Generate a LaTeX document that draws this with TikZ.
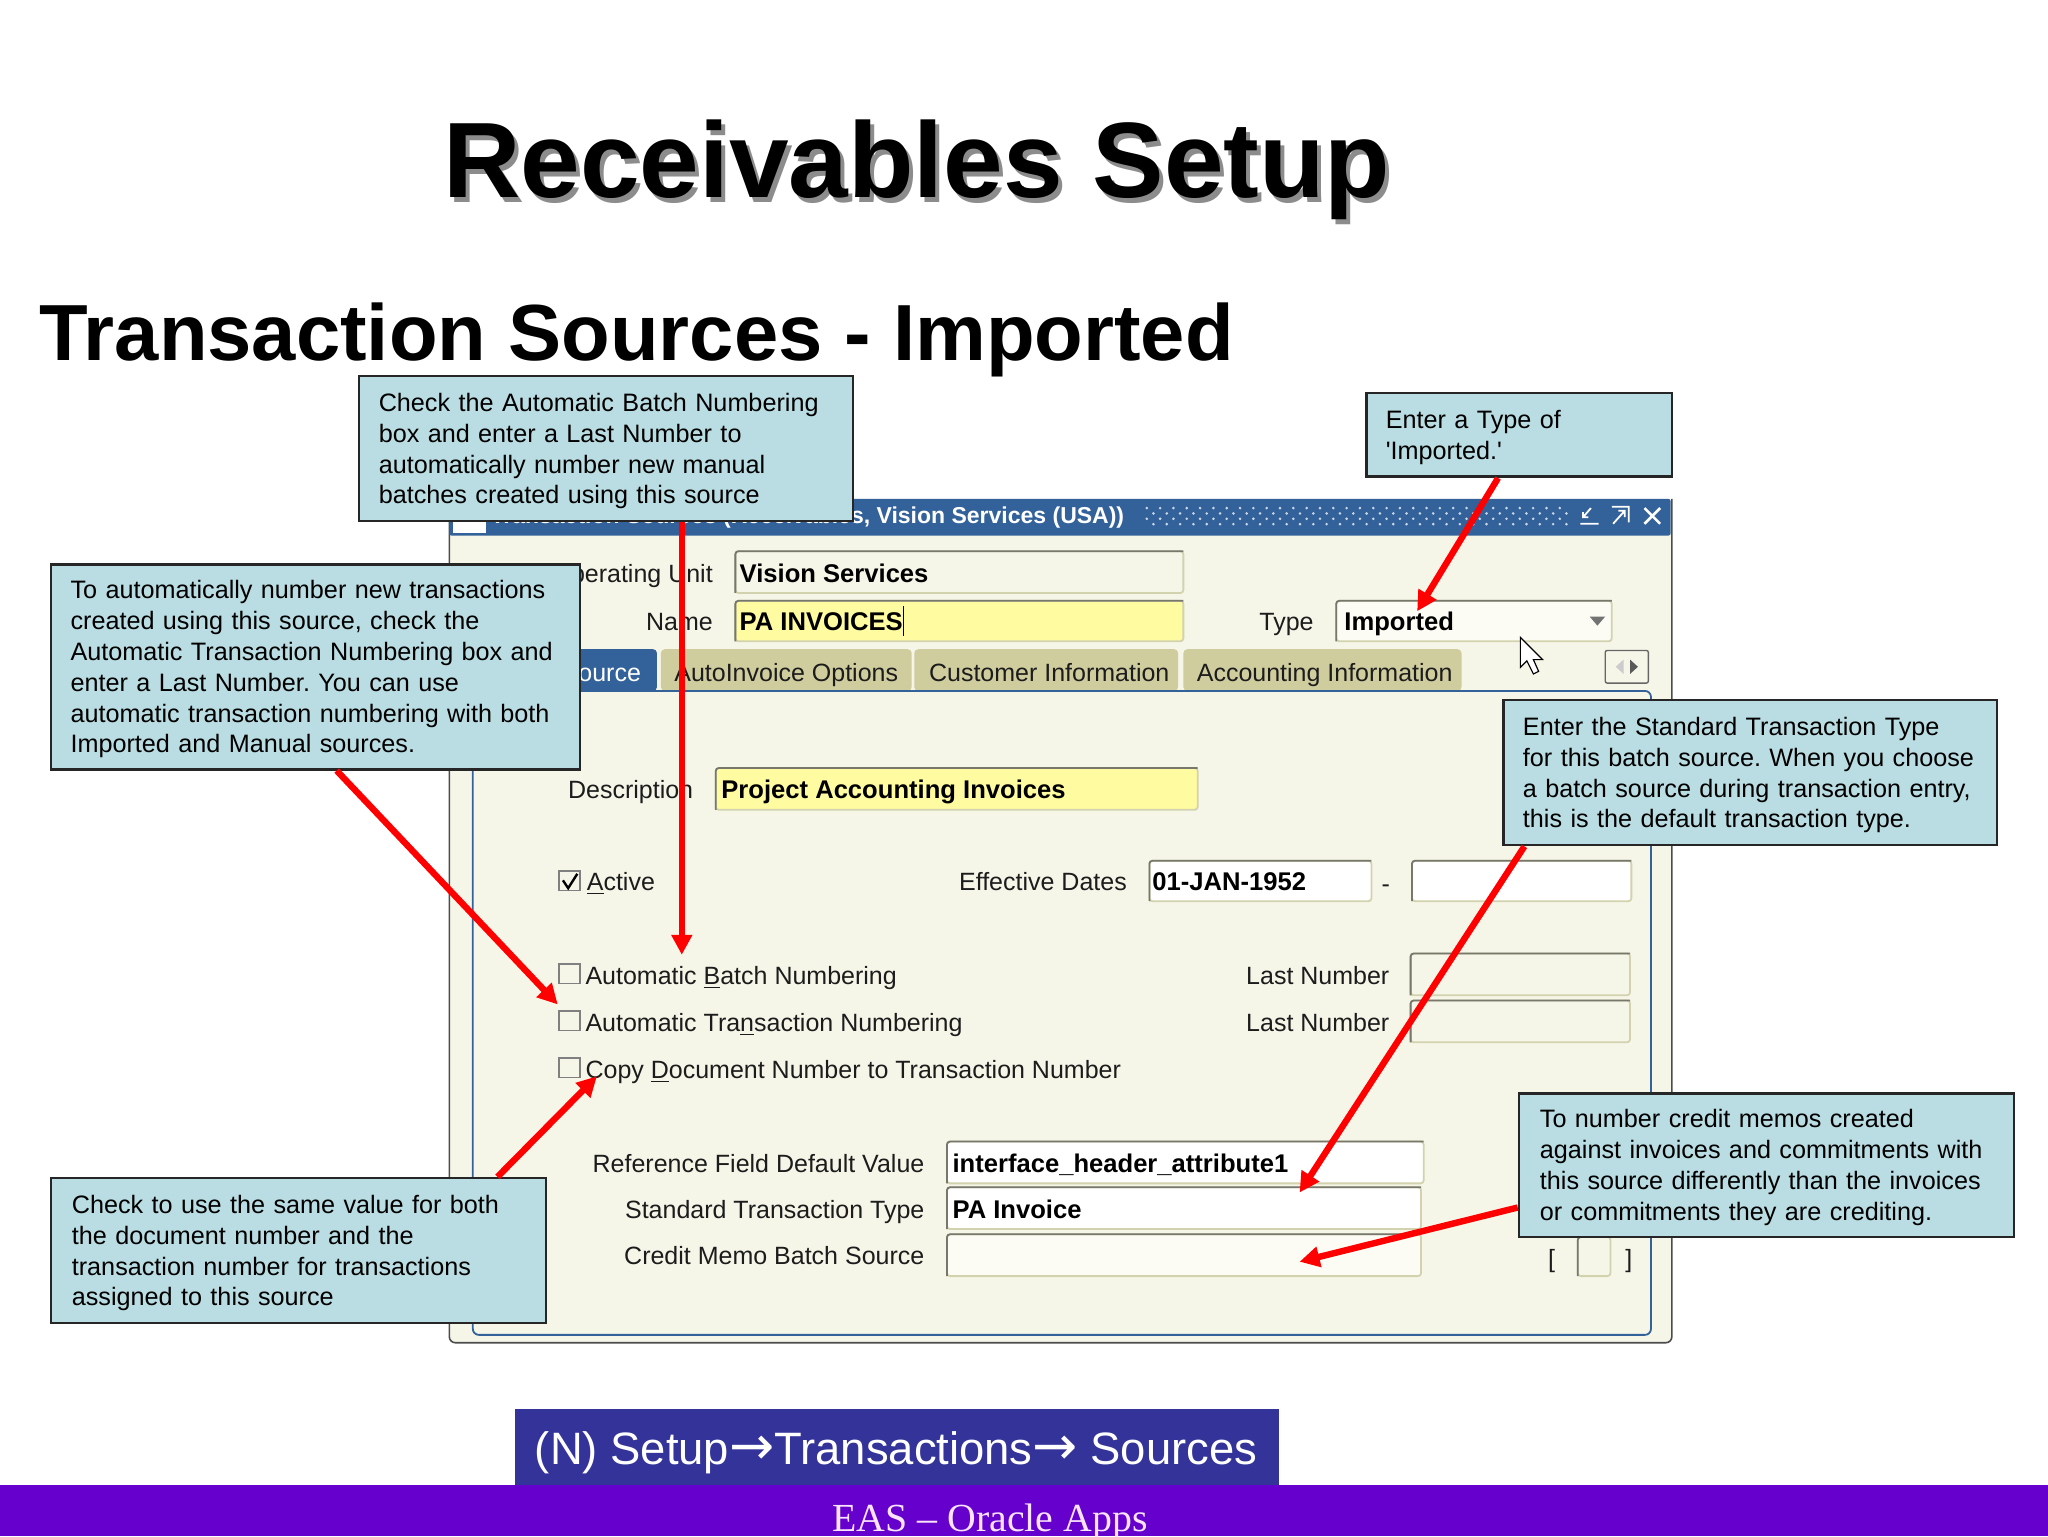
\documentclass[tikz,border=0pt]{standalone}
\usepackage{fontspec}
\setmainfont{Liberation Sans}
\newfontfamily\footfont{Liberation Serif}
\newfontfamily\arrowfont{DejaVu Sans}
\usetikzlibrary{calc,arrows.meta}
\def\px{0.65306pt}
\definecolor{notefill}{HTML}{B9DDE2}
\definecolor{winfill}{HTML}{F6F6E8}
\definecolor{winblue}{HTML}{33629A}
\definecolor{tabfill}{HTML}{CFCD9E}
\definecolor{fieldyellow}{HTML}{FFFBA0}
\definecolor{fieldpale}{HTML}{FCFCF4}
\definecolor{fieldedge}{HTML}{D2D2AE}
\definecolor{fieldtop}{HTML}{77776C}
\definecolor{uitext}{HTML}{1C1C1C}
\definecolor{navfill}{HTML}{333399}
\definecolor{footfill}{HTML}{6600CC}
\definecolor{footink}{HTML}{FBE3FB}
\tikzset{
  notebox/.style={draw=black!85,line width=1.3pt,fill=notefill,inner sep=0pt,align=left,font=\fontsize{12.6}{15.4}\selectfont\frenchspacing,execute at begin node={\rule{0pt}{11.7pt}}},
  redarrow/.style={draw=red,line width=3.2pt,-{Triangle[length=10pt,width=10pt]}},
  fieldbox/.style={draw=fieldedge,line width=0.9pt,rounded corners=1.5pt},
  uilabel/.style={inner sep=0pt,text=uitext,text height=10.2pt,text depth=1pt,font=\fontsize{12.5}{15}\selectfont},
  uivalue/.style={inner sep=0pt,anchor=west,text=black,text height=10.2pt,text depth=1pt,font=\fontsize{12.8}{15}\bfseries\selectfont},
  tabbox/.style={fill=tabfill,rounded corners=2pt},
  checkbox/.style={draw=black!50,line width=0.7pt,fill=winfill}
}
\begin{document}
\begin{tikzpicture}[x=\px,y=-\px]
\useasboundingbox (0,0) rectangle (1568,1176);

\node[font=\fontsize{53.6}{60}\bfseries\selectfont,text=black!45] (titleshadow) at (705,134) {Receivables Setup};
\node[font=\fontsize{53.6}{60}\bfseries\selectfont] (title) at (702,130) {Receivables Setup};
\node[anchor=west,inner sep=0pt,font=\fontsize{39.8}{44}\bfseries\selectfont] (subtitle) at (30,260) {Transaction Sources - Imported};

\fill[winfill,rounded corners=3pt] (344,382) rectangle (1280,1028);
\draw[black!70,line width=0.8pt,rounded corners=3pt] (344,384) -- (344,1028) -- (1280,1028) -- (1280,382);
\fill[winblue,rounded corners=1pt] (344,382) rectangle (1279,410);
\fill[white] (347,400) rectangle (372,408);
\node[anchor=east,inner sep=0pt,text=white,font=\fontsize{11.5}{15}\bfseries\selectfont] (wintitle) at (861,396) {Transaction Sources (Receivables, Vision Services (USA))};
\foreach \col in {0,...,31}
  \foreach \row in {0,1,2,3}
    \fill[white!75!winblue] ({878+\col*10.2+mod(\row,2)*5.1},{389+\row*4.1}) circle (1.1);
\draw[white,line width=0.9pt] (1218,389) -- (1212,396) (1212,392) -- (1212,396) -- (1216,396) (1210,401) -- (1224,401);
\draw[white,line width=0.9pt] (1234,388) -- (1247,388) -- (1247,400) (1235,401) -- (1244,391) (1239,391) -- (1244,391) -- (1244,396);
\draw[white,line width=1.3pt] (1259,389) -- (1271,401) (1271,389) -- (1259,401);

\fill[winblue,rounded corners=2pt] (363,529) -- (363,497) -- (503,497) -- (503,529) -- cycle;
\foreach \xa/\xb in {506/698,700/902,906/1119}
  \fill[tabbox] (\xa,529) -- (\xa,497) -- (\xb,497) -- (\xb,529) -- cycle;
\node[uilabel,anchor=east,text=white] (tabsource) at (491,515) {Source};
\node[uilabel,anchor=west] (tabinvoice) at (516,515) {AutoInvoice Options};
\node[uilabel,anchor=west] (tabcustomer) at (711,515) {Customer Information};
\node[uilabel,anchor=west] (tabaccount) at (916,515) {Accounting Information};
\draw[winblue,line width=0.9pt,rounded corners=3pt] (362,529) -- (362,1022) -- (1264,1022) -- (1264,529) -- cycle;
\draw[black!60,fill=winfill,line width=0.7pt,rounded corners=1pt] (1229,498) rectangle (1262,523);
\fill[black!20] (1243,505) -- (1243,516) -- (1237,510.5) -- cycle;
\fill[black!65] (1248,505) -- (1248,516) -- (1254,510.5) -- cycle;

\foreach \xa/\ya/\xb/\yb/\tint in {563/422/906/454/winfill,563/460/906/491/fieldyellow,1023/460/1234/491/fieldpale,
  548/588/917/620/fieldyellow,880/659/1050/690/white,1081/659/1249/690/white,
  1080/730/1248/762/winfill,1080/766/1248/798/winfill,
  725/874/1090/906/white,725/909/1088/941/white,725/945/1088/977/fieldpale,1208/947/1233/977/winfill}{
  \draw[fieldbox,fill=\tint] (\xa,\ya) rectangle (\xb,\yb);
  \draw[fieldtop,line width=0.9pt,rounded corners=1.5pt] (\xa,\yb) -- (\xa,\ya) -- (\xb,\ya);
}
\fill[black!55] (1217,472) -- (1229,472) -- (1223,479) -- cycle;
\draw[black] (692,464) -- (692,487);

\node[uilabel,anchor=east] (opunit) at (546,439) {Operating Unit};
\node[uilabel,anchor=east] (namelabel) at (546,476) {Name};
\node[uilabel,anchor=east] (typelabel) at (1006,476) {Type};
\node[uilabel,anchor=east] (desclabel) at (531,604) {Description};
\node[uilabel,anchor=west] (activelabel) at (449,675) {\underline{A}ctive};
\node[uilabel,anchor=east] (datelabel) at (863,675) {Effective Dates};
\node[uilabel] (datedash) at (1061,676) {-};
\node[uilabel,anchor=west] (batchlabel) at (448,747) {Automatic \underline{B}atch Numbering};
\node[uilabel,anchor=west] (translabel) at (448,783) {Automatic Tra\underline{n}saction Numbering};
\node[uilabel,anchor=west] (copylabel) at (448,819) {Copy \underline{D}ocument Number to Transaction Number};
\node[uilabel,anchor=east] (lastbatch) at (1064,747) {Last Number};
\node[uilabel,anchor=east] (lasttrans) at (1064,783) {Last Number};
\node[uilabel,anchor=east] (reflabel) at (708,891) {Reference Field Default Value};
\node[uilabel,anchor=east] (stdlabel) at (708,926) {Standard Transaction Type};
\node[uilabel,anchor=east] (creditlabel) at (708,961) {Credit Memo Batch Source};
\node[uilabel] (openbrack) at (1188,963) {[};
\node[uilabel] (closebrack) at (1247,963) {]};

\node[uivalue] (unitvalue) at (566,439) {Vision Services};
\node[uivalue] (namevalue) at (566,476) {PA INVOICES};
\node[uivalue] (typevalue) at (1029,476) {Imported};
\node[uivalue] (descvalue) at (552,604) {Project Accounting Invoices};
\node[uivalue] (datevalue) at (882,675) {01-JAN-1952};
\node[uivalue] (refvalue) at (729,891) {interface\_header\_attribute1};
\node[uivalue] (stdvalue) at (729,926) {PA Invoice};

\foreach \ya in {667,738,774,810}
  \draw[checkbox] (428,\ya) rectangle (444,\ya+15);
\draw[black,line width=1.2pt] (431,674) -- (435,680) -- (442,669);
\draw[fill=white,draw=black,line width=0.6pt] (1164,488) -- (1164,511) -- (1169,506) -- (1174,516) -- (1178,514) -- (1174,505) -- (1181,505) -- cycle;

\coordinate (batchtip) at (522,731);
\coordinate (typetip) at (1085,468);
\coordinate (transtip) at (427,769);
\coordinate (copytip) at (457,824);
\coordinate (stdtip) at (995,913);
\coordinate (credittip) at (995,966);

\node[notebox,minimum width=378*\px,minimum height=111*\px,text width=348*\px] (batchnote) at (464,343.5) {Check the Automatic Batch Numbering\\box and enter a Last Number to\\automatically number new manual\\batches created using this source};
\node[notebox,minimum width=234*\px,minimum height=64*\px,text width=204*\px] (typenote) at (1163,333) {Enter a Type of\\\textquotesingle Imported.\textquotesingle};
\node[notebox,minimum width=405*\px,minimum height=157*\px,text width=375*\px] (transnote) at (241.5,510.5) {To automatically number new transactions\\created using this source, check the\\Automatic Transaction Numbering box and\\enter a Last Number. You can use\\automatic transaction numbering with both\\Imported and Manual sources.};
\node[notebox,minimum width=378*\px,minimum height=111*\px,text width=348*\px] (stdnote) at (1340,591.5) {Enter the Standard Transaction Type\\for this batch source. When you choose\\a batch source during transaction entry,\\this is the default transaction type.};
\node[notebox,minimum width=379*\px,minimum height=110*\px,text width=347*\px] (creditnote) at (1352.5,892) {To number credit memos created\\against invoices and commitments with\\this source differently than the invoices\\or commitments they are crediting.};
\node[notebox,minimum width=379*\px,minimum height=111*\px,text width=347*\px] (copynote) at (228.5,957.5) {Check to use the same value for both\\the document number and the\\transaction number for transactions\\assigned to this source};

\draw[redarrow] (batchnote.south -| batchtip) -- (batchtip);
\draw[redarrow] ($(typenote.south west)!0.432!(typenote.south east)$) -- (typetip);
\draw[redarrow] ($(transnote.south west)!0.54!(transnote.south east)$) -- (transtip);
\draw[redarrow] ($(copynote.north west)!0.90!(copynote.north east)$) -- (copytip);
\draw[redarrow] ($(stdnote.south west)!0.045!(stdnote.south east)$) -- (stdtip);
\draw[redarrow] ($(creditnote.north west)!0.79!(creditnote.south west)$) -- (credittip);

\fill[footfill] (0,1137) rectangle (1568,1176);
\fill[navfill] (394,1079) rectangle (979,1137);
\node[text=white,inner sep=0pt,font=\fontsize{22.7}{28}\selectfont] (navbar) at (686,1112) {(N) Setup{\arrowfont\fontsize{27}{28}\selectfont→}Transactions{\arrowfont\fontsize{27}{28}\selectfont→} Sources};
\node[text=footink,inner sep=0pt,font=\footfont\fontsize{19.9}{24}\selectfont] (footer) at (758,1165) {EAS – Oracle Apps};
\end{tikzpicture}
\end{document}
